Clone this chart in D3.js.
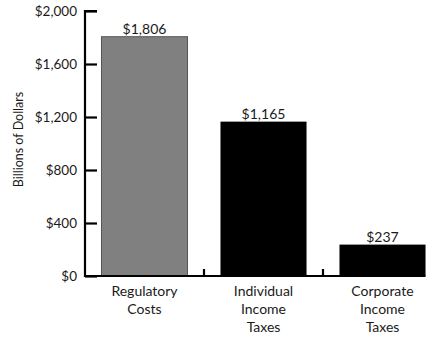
<!DOCTYPE html>
<html>
<head>
<meta charset="utf-8">
<script src="https://cdn.jsdelivr.net/npm/d3@7"></script>
<style>
  html, body { margin: 0; padding: 0; background: #fff; }
  svg { display: block; }
  text { font-family: Lato, "Open Sans", sans-serif; fill: #1a1a1a; }
</style>
</head>
<body>
<svg id="chart" width="429" height="337"></svg>
<script>
// Cost categories and their totals (billions of dollars)
const categories = [["Regulatory", "Costs"], ["Individual", "Income", "Taxes"], ["Corporate", "Income", "Taxes"]];
const values = [1806, 1165, 237];
const barColors = ["#808080", "#000000", "#000000"];
const yTicks = [0, 400, 800, 1200, 1600, 2000];
const yTitle = "Billions of Dollars";

const svg = d3.select("#chart");
const plotLeft = 85, plotRight = 442, plotTop = 11, plotBottom = 276;

const x = d3.scaleBand()
  .domain(d3.range(values.length))
  .range([plotLeft, plotRight])
  .paddingInner(0.277)
  .paddingOuter(0.1385);
const xCat = d3.scaleBand().domain(d3.range(values.length)).range([plotLeft, plotRight]);
const y = d3.scaleLinear().domain([0, 2000]).range([plotBottom, plotTop]);

const fmt = v => "$" + d3.format(",")(v);

// Bars
svg.append("g").selectAll("rect")
  .data(values)
  .join("rect")
  .attr("x", (d, i) => x(i))
  .attr("y", d => y(d))
  .attr("width", x.bandwidth())
  .attr("height", d => y(0) - y(d))
  .attr("fill", (d, i) => barColors[i])
  .attr("stroke", (d, i) => i === 0 ? "#555" : "none")
  .attr("stroke-width", 1);

// Value labels
svg.append("g").selectAll("text")
  .data(values)
  .join("text")
  .attr("x", (d, i) => x(i) + x.bandwidth() / 2)
  .attr("y", d => y(d) - 3)
  .attr("text-anchor", "middle")
  .attr("font-size", 14)
  .text(fmt);

// Y axis with inward ticks
const yAxis = d3.axisRight(y).tickValues(yTicks).tickSize(12).tickFormat("");
const gy = svg.append("g").attr("transform", `translate(${plotLeft},0)`).call(yAxis);
gy.select(".domain").attr("stroke", "#000").attr("stroke-width", 2.2)
  .attr("d", `M12,${plotTop}H0V${plotBottom}H12`);
gy.selectAll(".tick line").attr("stroke", "#000").attr("stroke-width", 2.2);

svg.append("g").selectAll("text")
  .data(yTicks)
  .join("text")
  .attr("x", plotLeft - 8)
  .attr("y", d => y(d))
  .attr("dy", "0.35em")
  .attr("text-anchor", "end")
  .attr("font-size", 13.5)
  .text(fmt);

// X axis baseline with small ticks between categories
const xEnd = x(values.length - 1) + x.bandwidth();
svg.append("line")
  .attr("x1", plotLeft).attr("x2", xEnd)
  .attr("y1", plotBottom).attr("y2", plotBottom)
  .attr("stroke", "#000").attr("stroke-width", 2.2);
svg.append("g").selectAll("line")
  .data(d3.range(1, values.length))
  .join("line")
  .attr("x1", i => xCat(i)).attr("x2", i => xCat(i))
  .attr("y1", plotBottom).attr("y2", plotBottom - 7)
  .attr("stroke", "#000").attr("stroke-width", 2.2);

// Category labels
const cat = svg.append("g").selectAll("text")
  .data(categories)
  .join("text")
  .attr("x", (d, i) => x(i) + x.bandwidth() / 2)
  .attr("y", 296)
  .attr("text-anchor", "middle")
  .attr("font-size", 14);
cat.selectAll("tspan")
  .data(d => d)
  .join("tspan")
  .attr("x", function() { return this.parentNode.getAttribute("x"); })
  .attr("dy", (d, j) => j === 0 ? 0 : 18)
  .text(d => d);

// Y axis title
svg.append("text")
  .attr("transform", `translate(23,${(plotTop + plotBottom) / 2 - 4}) rotate(-90)`)
  .attr("text-anchor", "middle")
  .attr("font-family", "'Liberation Sans', Arial, sans-serif")
  .attr("font-size", 12.5)
  .text(yTitle);
</script>
</body>
</html>
